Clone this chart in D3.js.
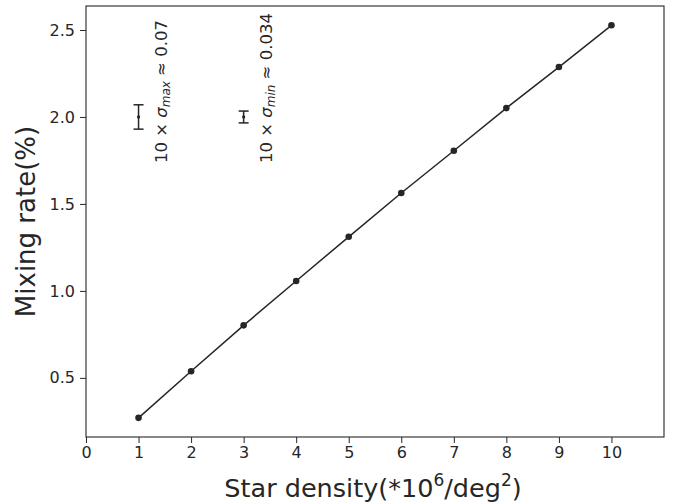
<!DOCTYPE html>
<html><head>
<meta charset="utf-8">
<script src="https://d3js.org/d3.v7.min.js"></script>
<style>
  body { margin: 0; background: #fff; }
  text { font-family: "DejaVu Sans", sans-serif; fill: #262626; }
  .axis path, .axis line { stroke: #262626; }
  .axis text { font-size: 16px; }
</style>
</head>
<body>
<svg id="chart" width="678" height="504"></svg>
<script>
// data
let densities = [1, 2, 3, 4, 5, 6, 7, 8, 9, 10];
let mixRates = [0.27, 0.538, 0.802, 1.057, 1.311, 1.563, 1.806, 2.051, 2.287, 2.527];

// error bar samples (x, y, half-width)
let errX = [1, 3];
let errY = [2.0, 2.0];
let errSize = [0.07, 0.034];
let errSub = ["max", "min"];
let errValue = ["0.07", "0.034"];

let xTicks = [0, 1, 2, 3, 4, 5, 6, 7, 8, 9, 10];
let yTicks = [0.5, 1.0, 1.5, 2.0, 2.5];

let svg = d3.select("svg#chart");
let margin = { top: 6, right: 14, bottom: 67, left: 86 };
let width = 678 - margin.left - margin.right;
let height = 504 - margin.top - margin.bottom;

let x = d3.scaleLinear().domain([0, 11]).range([0, width]);
let y = d3.scaleLinear().domain([0.16, 2.638]).range([height, 0]);

let g = svg.append("g").attr("transform", "translate(" + margin.left + "," + margin.top + ")");

// axes
g.append("g").attr("class", "axis")
  .attr("transform", "translate(0," + height + ")")
  .call(d3.axisBottom(x).tickValues(xTicks).tickSize(6).tickPadding(4).tickFormat(d3.format("d")))
  .call(a => a.select(".domain").remove());

g.append("g").attr("class", "axis")
  .call(d3.axisLeft(y).tickValues(yTicks).tickSize(6).tickPadding(5).tickFormat(d3.format(".1f")))
  .call(a => a.select(".domain").remove());

// frame
g.append("rect")
  .attr("width", width).attr("height", height)
  .attr("fill", "none").attr("stroke", "#262626").attr("stroke-width", 1.1);

// line + points
let line = d3.line().x((d, i) => x(densities[i])).y(d => y(d));
g.append("path").datum(mixRates)
  .attr("d", line).attr("fill", "none").attr("stroke", "#262626").attr("stroke-width", 1.5);

g.selectAll("circle.pt").data(mixRates).enter().append("circle")
  .attr("class", "pt")
  .attr("cx", (d, i) => x(densities[i]))
  .attr("cy", d => y(d))
  .attr("r", 3.3)
  .attr("fill", "#262626");

// error bars
errX.forEach((ex, i) => {
  let eg = g.append("g").attr("stroke", "#262626").attr("stroke-width", 1.5);
  let cx = x(ex);
  eg.append("line").attr("x1", cx).attr("x2", cx).attr("y1", y(errY[i] - errSize[i])).attr("y2", y(errY[i] + errSize[i]));
  [-1, 1].forEach(s => {
    eg.append("line").attr("x1", cx - 5).attr("x2", cx + 5)
      .attr("y1", y(errY[i] + s * errSize[i])).attr("y2", y(errY[i] + s * errSize[i]));
  });
  g.append("circle").attr("cx", cx).attr("cy", y(errY[i])).attr("r", 1.6).attr("fill", "#262626");

  // rotated annotation
  let t = g.append("text")
    .attr("transform", "translate(" + (cx + 28) + "," + y(1.735) + ") rotate(-90)")
    .attr("font-size", "16.5px");
  t.append("tspan").text("10 \u00d7 ");
  t.append("tspan").attr("font-style", "italic").text("\u03c3");
  t.append("tspan").attr("font-style", "italic").attr("font-size", "12px").attr("dy", 3).text(errSub[i]);
  t.append("tspan").attr("dy", -3).text(" \u2248 " + errValue[i]);
});

// axis labels
svg.append("text")
  .attr("x", margin.left + width / 2 - 2).attr("y", 497)
  .attr("text-anchor", "middle").attr("font-size", "25.5px")
  .call(t => {
    t.append("tspan").text("Star density(*10");
    t.append("tspan").attr("font-size", "17px").attr("dy", -11).text("6");
    t.append("tspan").attr("dy", 11).text("/deg");
    t.append("tspan").attr("font-size", "17px").attr("dy", -11).text("2");
    t.append("tspan").attr("dy", 11).text(")");
  });

svg.append("text")
  .attr("transform", "translate(35," + (margin.top + height / 2) + ") rotate(-90)")
  .attr("text-anchor", "middle").attr("font-size", "26px")
  .text("Mixing rate(%)");
</script>
</body>
</html>
